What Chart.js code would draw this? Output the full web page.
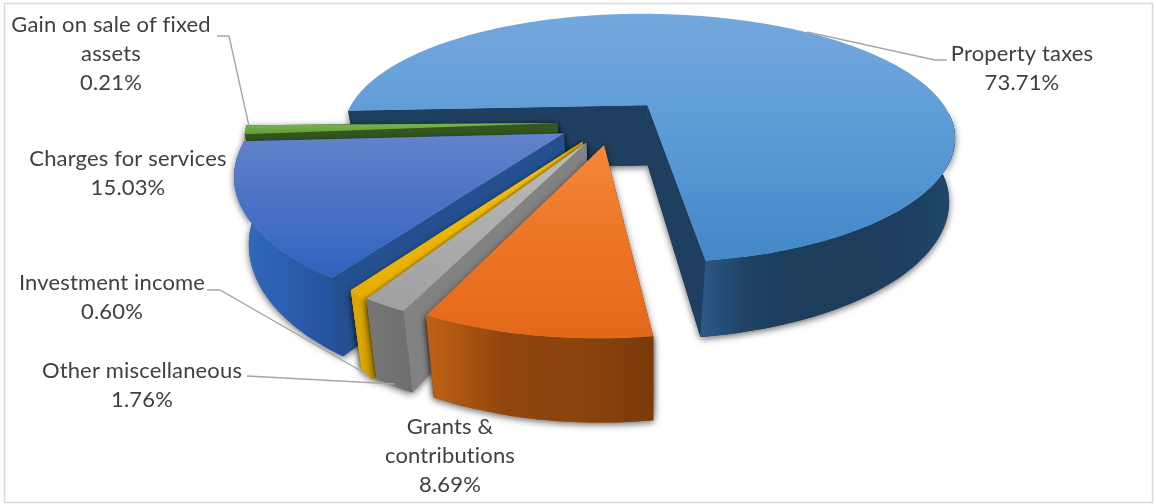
<!DOCTYPE html>
<html>
<head>
<meta charset="utf-8">
<title>Revenue sources</title>
<script src="https://cdn.jsdelivr.net/npm/chart.js@4"></script>
<style>
    html, body { margin: 0; padding: 0; background: #fff; }
    canvas { display: block; }
</style>
</head>
<body>
<canvas id="revenue-chart" width="1156" height="504"></canvas>
<script>
// Categories and shares, clockwise from the left edge of the pie
const categories = [
    'Property taxes',
    'Grants &\ncontributions',
    'Other miscellaneous',
    'Investment income',
    'Charges for services',
    'Gain on sale of fixed\nassets'
];
const shares = [73.71, 8.69, 1.76, 0.60, 15.03, 0.21];

// Label centre and first baseline
const labelSpots = [
    [1022, 61], [450, 434], [142, 378], [112, 290], [128, 166], [111, 32]
];
// Leader lines, one per label (null where there is none)
const leaders = [
    [[947, 60], [935, 60], [807, 32]],
    null,
    [[247, 376], [395, 384]],
    [[207, 290], [220, 290], [368, 375]],
    null,
    [[217, 36], [229, 36], [249, 126]]
];

// Colours per slice: top gradient, radial face, wall gradient stops
const topColors = [
    ['#74a8de', '#5b9bd5', '#4387c8'],
    ['#f5873a', '#ed7525', '#e3691a'],
    ['#bdbdbd', '#adadad', '#a0a0a0'],
    ['#f7c51a', '#f0b800', '#e8ae00'],
    ['#6283cc', '#4a72c4', '#2f62bd'],
    ['#78b84f', '#6cab43', '#5f9c3a']
];
const faceColors = ['#1f3f60', '#9a4d10', '#828282', '#d8a400', '#24508f', '#34571e'];
const wallColors = [
    ['#2c5a88', '#1f4466', '#1d3d5c', '#1d3d5c', '#1d3d5c', '#1d3f60', '#1f4668'],
    ['#bb5f14', '#8f450e', '#8c430e', '#7a3a0b'],
    ['#757575', '#6e6e6e'],
    ['#dba600', '#c89800'],
    ['#3068bb', '#2a5cab', '#234f96'],
    ['#34571e', '#2c4a19']
];

// Projection of the pie plane onto the page
const view = { x0: 649, y0: 106, ax: 297, ay: 116, shear: 7, tilt: 0.264, tiltX: 0.245 };
const pieCentre = { u: -0.121, v: 0.132 };
const explode = 0.18;
const minRimGap = 9; // hairline slices stay visible on the page

function project(u, v) {
    const w = 1 - view.tilt * v;
    return {
        x: view.x0 + (view.ax * u + view.shear * v) / (1 - view.tiltX * v),
        y: view.y0 + view.ay * v / w,
        w: w
    };
}

// Point on the lower rim, below a point of the top face
function drop(p) {
    const inward = p.x < 655 ? (655 - p.x) * 0.035 : -Math.min(6, (p.x - 655) * 0.1);
    return {
        x: p.x + inward,
        y: p.y + 60 * Math.pow(p.w, -0.8)
    };
}

function tracePath(ctx, points) {
    ctx.beginPath();
    points.forEach((p, i) => (i ? ctx.lineTo(p.x, p.y) : ctx.moveTo(p.x, p.y)));
    ctx.closePath();
}

// Draws one slice from the angles the arc element already holds
function drawSlice(ctx, arc, index) {
    const { startAngle, endAngle } = arc.getProps(['startAngle', 'endAngle'], true);
    const mid = (startAngle + endAngle) / 2;
    const tipU = pieCentre.u + explode * Math.cos(mid);
    const tipV = pieCentre.v + explode * Math.sin(mid);
    const tip = project(tipU, tipV);

    const steps = Math.max(4, Math.round((endAngle - startAngle) * 40));
    const rim = [];
    const frontRim = [];
    for (let i = 0; i <= steps; i++) {
        const a = startAngle + (endAngle - startAngle) * i / steps;
        const p = project(tipU + Math.cos(a), tipV + Math.sin(a));
        rim.push(p);
        // the wall can only be seen on the near side of the pie
        if (Math.sin(a) > 0.05) frontRim.push(p);
    }
    const gap = Math.abs(rim[steps].y - rim[0].y);
    if (gap < minRimGap) {
        const sign = rim[steps].y < rim[0].y ? 1 : -1;
        rim.forEach((p, i) => {
            p.y += sign * (minRimGap - gap) * (0.5 - i / steps);
        });
    }

    const lowRim = frontRim.map(drop);
    const wallPath = frontRim.concat(lowRim.slice().reverse());
    const faces = [rim[0], rim[steps]].map(end => [tip, end, drop(end), drop(tip)]);
    const hasWall = frontRim.length > 1;

    // soft shadow under the solid
    ctx.save();
    ctx.shadowColor = 'rgba(0, 0, 0, 0.6)';
    ctx.shadowBlur = 7;
    ctx.shadowOffsetY = 2;
    ctx.fillStyle = faceColors[index];
    (hasWall ? [wallPath, ...faces] : faces).forEach(path => {
        tracePath(ctx, path);
        ctx.fill();
    });
    ctx.restore();

    // radial faces
    ctx.fillStyle = faceColors[index];
    faces.forEach(path => {
        tracePath(ctx, path);
        ctx.fill();
    });

    // outer wall
    if (hasWall) {
        const xs = lowRim.map(p => p.x);
        const wall = ctx.createLinearGradient(Math.min(...xs), 0, Math.max(...xs), 0);
        wallColors[index].forEach((c, i, all) => wall.addColorStop(i / (all.length - 1), c));
        ctx.fillStyle = wall;
        tracePath(ctx, wallPath);
        ctx.fill();
    }

    // top face
    const ys = rim.concat([tip]).map(p => p.y);
    const top = ctx.createLinearGradient(0, Math.min(...ys), 0, Math.max(...ys));
    topColors[index].forEach((c, i) => top.addColorStop(i / 2, c));
    ctx.fillStyle = top;
    tracePath(ctx, [tip].concat(rim));
    ctx.fill();
}

const pie3d = {
    id: 'pie3d',
    beforeDatasetsDraw(chart) {
        const ctx = chart.ctx;
        const arcs = chart.getDatasetMeta(0).data;
        // back to front
        [0, 5, 4, 3, 2, 1].forEach(i => drawSlice(ctx, arcs[i], i));
        return false;
    },
    afterDraw(chart) {
        const ctx = chart.ctx;
        ctx.save();
        ctx.strokeStyle = '#a6a6a6';
        ctx.lineWidth = 1.4;
        leaders.forEach(line => {
            if (!line) return;
            ctx.beginPath();
            line.forEach((p, i) => (i ? ctx.lineTo(p[0], p[1]) : ctx.moveTo(p[0], p[1])));
            ctx.stroke();
        });

        ctx.font = '22px Lato';
        ctx.letterSpacing = '0.15px';
        ctx.fillStyle = '#404040';
        ctx.textAlign = 'center';
        ctx.textBaseline = 'alphabetic';
        categories.forEach((name, i) => {
            const lines = name.split('\n').concat(shares[i].toFixed(2) + '%');
            lines.forEach((text, n) => {
                ctx.fillText(text, labelSpots[i][0], labelSpots[i][1] + n * 29);
            });
        });

        // chart frame
        ctx.strokeStyle = '#d9d9d9';
        ctx.lineWidth = 1.5;
        ctx.strokeRect(4.5, 3.5, 1148, 499);
        ctx.restore();
    }
};

new Chart(document.getElementById('revenue-chart'), {
    type: 'pie',
    data: {
        labels: categories,
        datasets: [{ data: shares }]
    },
    options: {
        responsive: false,
        animation: false,
        rotation: 267.4,
        events: [],
        plugins: {
            legend: { display: false },
            tooltip: { enabled: false }
        }
    },
    plugins: [pie3d]
});
</script>
</body>
</html>
